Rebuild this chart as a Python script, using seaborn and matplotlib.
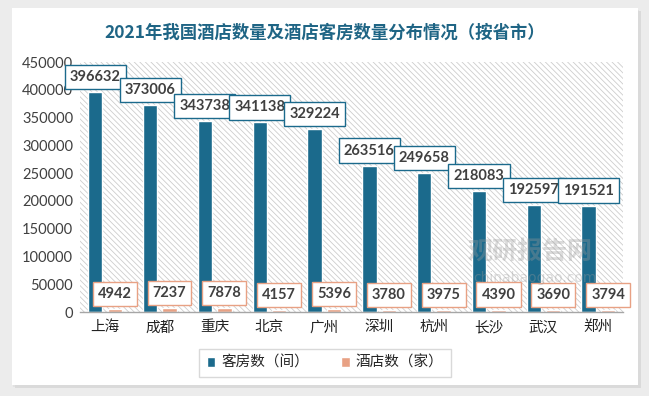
import pandas as pd
import matplotlib.pyplot as plt
import seaborn as sns
from matplotlib.patches import Rectangle

# values
cities = ["上海", "成都", "重庆", "北京", "广州", "深圳", "杭州", "长沙", "武汉", "郑州"]
rooms = [396632, 373006, 343738, 341138, 329224, 263516, 249658, 218083, 192597, 191521]
hotels = [4942, 7237, 7878, 4157, 5396, 3780, 3975, 4390, 3690, 3794]
series = ["客房数（间）", "酒店数（家）"]
colors = ["#1B6A8C", "#E8A184"]
yticks = [0, 50000, 100000, 150000, 200000, 250000, 300000, 350000, 400000, 450000]

df = pd.DataFrame({
    "city": cities * 2,
    "value": rooms + hotels,
    "series": [series[0]] * len(cities) + [series[1]] * len(cities),
})

sns.set_theme(style="white")
plt.rcParams["font.family"] = ["Noto Sans CJK SC", "DejaVu Sans"]
plt.rcParams["hatch.color"] = "#CDCDCD"
plt.rcParams["hatch.linewidth"] = 0.6

fig = plt.figure(figsize=(6.49, 3.96), dpi=100)
fig.patch.set_facecolor("#ECECEC")

# card with a soft shadow
for i, c in enumerate(["#E2E2E2", "#DADADA"]):
    fig.patches.append(Rectangle((12 / 649 + 0.002 * (i + 1), 1 - 385 / 396 - 0.004 * (i + 1)),
                                 626 / 649, 377 / 396, transform=fig.transFigure,
                                 facecolor=c, edgecolor="none", zorder=-3 + i))
fig.patches.append(Rectangle((12 / 649, 1 - 385 / 396), 626 / 649, 377 / 396,
                             transform=fig.transFigure, facecolor="white",
                             edgecolor="none", zorder=-1))

ax = fig.add_axes([80 / 649, 1 - 312 / 396, 543 / 649, 250 / 396])
ax.set_facecolor("none")

# hatched plot area
ax.add_patch(Rectangle((0, 0), 1, 1, transform=ax.transAxes, facecolor="white",
                       edgecolor="#CDCDCD", hatch="\\" * 6, linewidth=0, zorder=0))

sns.barplot(data=df, x="city", y="value", hue="series", palette=colors,
            saturation=1, width=0.71, gap=0.26, ax=ax, zorder=2, legend=True)

ax.set_ylim(0, 450000)
ax.set_yticks(yticks)
ax.set_yticklabels([str(v) for v in yticks], fontsize=10.5, color="#404040",
                   family="Lato")
ax.set_xlim(-0.456, 9.45)
ax.set_xlabel("")
ax.set_ylabel("")
ax.tick_params(axis="x", labelsize=10.5, labelcolor="#222222", length=0, pad=6)
ax.tick_params(axis="y", length=0, pad=5)
for s in ["top", "right", "left"]:
    ax.spines[s].set_visible(False)
ax.spines["bottom"].set_color("#A6A6A6")
ax.spines["bottom"].set_linewidth(1)

# boxed data labels
for cont, col in zip(ax.containers, colors):
    for bar in cont:
        v = bar.get_height()
        ax.text(bar.get_x() + bar.get_width() / 2, v + 27000, f"{int(round(v))}",
                ha="center", va="center", fontsize=10.5, fontweight="bold",
                color="#404040", family="Lato", zorder=5,
                bbox=dict(boxstyle="square,pad=0.35", facecolor="white",
                          edgecolor=col, linewidth=1))

leg = ax.legend(loc="center", bbox_to_anchor=(325 / 649, 1 - 363 / 396),
                bbox_transform=fig.transFigure, ncol=2, frameon=True,
                fontsize=10.5, handlelength=0.6, handleheight=0.6,
                columnspacing=2.2, handletextpad=0.4, fancybox=False,
                borderpad=0.5)
leg.get_frame().set_edgecolor("#D0D0D0")
leg.get_frame().set_linewidth(1)

# watermark
fig.text(530 / 649, 1 - 252 / 396, "观研报告网", fontsize=18, fontweight="bold",
         color="#9A9A9A", alpha=0.35, ha="center", va="center", zorder=10)
fig.text(535 / 649, 1 - 278 / 396, "chinabaogao.com", fontsize=10,
         color="#9A9A9A", alpha=0.35, ha="center", va="center", family="DejaVu Sans",
         zorder=10)

fig.text(325 / 649, 1 - 33 / 396, "2021年我国酒店数量及酒店客房数量分布情况（按省市）",
         fontsize=12.5, fontweight="bold", color="#1F6585", ha="center", va="center")

fig.savefig("out.png", dpi=100)
